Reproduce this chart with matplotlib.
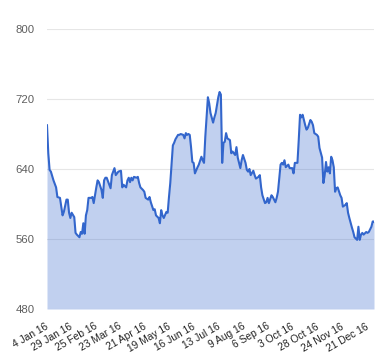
import numpy as np
import matplotlib
matplotlib.use("Agg")
import matplotlib.pyplot as plt

# trading-day index (0 = 4 Jan 16) and closing price
day = [0, 1, 2, 3, 5, 7, 8, 10, 12, 13, 15, 16, 17, 18, 19, 21, 22, 23, 25, 26,
       27, 28, 29, 30, 31, 32, 34, 35, 36, 38, 39, 40, 42, 43, 44, 45, 46, 48, 49, 50,
       52, 53, 54, 55, 57, 58, 59, 61, 62, 63, 64, 65, 66, 67, 69, 70, 71, 72, 74, 75,
       76, 78, 79, 80, 82, 83, 84, 86, 87, 88, 89, 90, 92, 93, 94, 95, 97, 98, 99, 101,
       102, 103, 105, 106, 107, 108, 109, 110, 111, 112, 113, 114, 116, 117, 119, 120, 121, 122, 123, 124,
       125, 126, 128, 129, 130, 132, 133, 134, 135, 136, 137, 138, 139, 141, 142, 143, 145, 146, 147, 149,
       150, 151, 153, 154, 155, 156, 157, 159, 160, 161, 163, 164, 165, 166, 168, 169, 170, 171, 173, 174,
       176, 177, 178, 180, 181, 182, 183, 184, 186, 187, 189, 190, 191, 193, 194, 195, 196, 197, 199, 200,
       201, 203, 204, 205, 206, 208, 209, 210, 212, 213, 214, 215, 216, 217, 218, 219, 220, 221, 222, 223,
       224, 226, 227, 228, 230, 231, 232, 233, 235, 236, 237, 239, 240, 241, 242, 243, 244, 246, 247, 248,
       250, 251, 252]
price = [690, 658, 639, 637, 627, 619, 608, 607, 587, 591, 605, 605, 590, 584, 590, 585, 567, 565, 562, 568,
         566, 578, 566, 587, 593, 607, 607, 608, 601, 619, 627, 625, 616, 607, 627, 630, 630, 622, 618, 633,
         641, 633, 635, 637, 638, 619, 622, 619, 627, 630, 625, 630, 627, 631, 630, 631, 624, 619, 616, 614,
         607, 605, 608, 602, 593, 594, 587, 584, 578, 593, 587, 584, 591, 590, 608, 624, 667, 670, 674, 679,
         679, 680, 679, 675, 681, 679, 680, 679, 665, 648, 647, 635, 642, 645, 654, 650, 647, 677, 700, 722,
         715, 704, 693, 699, 704, 722, 728, 725, 647, 670, 671, 681, 675, 673, 658, 660, 656, 665, 653, 641,
         650, 656, 647, 639, 637, 640, 633, 638, 633, 629, 631, 633, 619, 610, 601, 602, 607, 601, 610, 608,
         602, 607, 614, 645, 647, 645, 650, 642, 645, 641, 641, 635, 647, 647, 673, 702, 699, 702, 690, 685,
         687, 696, 694, 690, 681, 679, 677, 664, 653, 624, 633, 648, 637, 642, 635, 654, 650, 642, 614, 618,
         619, 610, 607, 597, 599, 601, 590, 584, 573, 568, 562, 559, 574, 559, 565, 567, 565, 568, 567, 568,
         574, 580, 580]

tick_labels = ["4 Jan 16", "29 Jan 16", "25 Feb 16", "23 Mar 16", "21 Apr 16", "19 May 16",
               "16 Jun 16", "13 Jul 16", "9 Aug 16", "6 Sep 16", "3 Oct 16", "28 Oct 16",
               "24 Nov 16", "21 Dec 16"]
tick_days = [19 * i for i in range(len(tick_labels))]
y_ticks = [480, 560, 640, 720, 800]

plt.rcParams['font.family'] = ['Liberation Sans', 'DejaVu Sans']

fig = plt.figure(figsize=(3.8, 3.6), dpi=100)
ax = fig.add_axes([47 / 380, 1 - 309 / 360, 327 / 380, 280 / 360])

line_color = '#3366cc'
ax.fill_between(day, price, 480, color=line_color, alpha=0.3, linewidth=0, zorder=2)
ax.plot(day, price, color=line_color, linewidth=1.5, zorder=3)

ax.set_xlim(0, 252)
ax.set_ylim(480, 800)
ax.set_yticks(y_ticks)
ax.set_xticks(tick_days)
ax.set_xticklabels(tick_labels, rotation=30, ha='right', va='center',
                   rotation_mode='anchor', fontsize=7.4, color='#222222')
ax.tick_params(axis='x', length=0, pad=12)
ax.tick_params(axis='y', length=0, pad=9, labelsize=8.2, labelcolor='#5f5f5f')

ax.grid(axis='y', color='#e6e6e6', linewidth=0.8, zorder=1)
ax.set_axisbelow(True)
for s in ax.spines.values():
    s.set_visible(False)

fig.savefig('out.png', dpi=100)
